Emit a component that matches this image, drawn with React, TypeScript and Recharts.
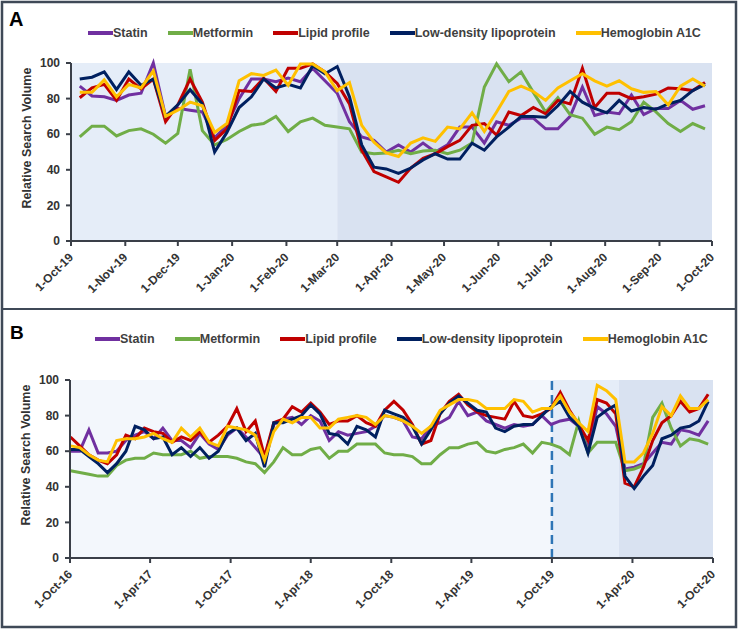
import React from "react";
import { LineChart, Line, XAxis, YAxis, ReferenceArea, ReferenceLine } from "recharts";

// ---- panel A: weekly, Oct 2019 - Sep 2020 ----
const startA = "2019-10-06";
const statinA = [87, 81.5, 81, 79, 82, 83, 100, 70, 74.5, 73.5, 72.5, 58, 65, 80, 91, 91, 89.5, 91.5, 89.5, 97, 90, 83, 67, 58.5, 56.5, 50, 54, 50, 55, 50, 54, 64, 64, 55, 67, 65, 69, 69, 63, 63, 70, 86.5, 70.5, 72.5, 71.5, 82, 71, 74.5, 74.5, 79, 74, 76];
const metforminA = [58.5, 64.5, 64.5, 59, 62, 63, 60, 55, 60.5, 96.5, 62, 54, 57, 61.5, 65, 66, 70, 61.5, 67, 69, 65, 64, 63, 50, 49, 49.5, 51, 49, 50.5, 51, 49, 51, 55, 86.5, 99.5, 89.5, 95, 83.5, 72.5, 80.5, 71, 69, 60, 64, 62.5, 67, 78, 72.5, 66, 61.5, 66, 63];
const lipidA = [80.5, 86, 88, 79, 91, 85.5, 91, 67, 76.5, 91, 78, 56.5, 63, 84.5, 84, 91.5, 84, 97, 97, 99.5, 95, 88.5, 77, 51, 39, 36, 33, 41, 46.5, 49, 53, 56.5, 65, 66, 59.5, 72.5, 70.5, 75, 71.5, 79, 77, 97, 75, 83, 83, 80, 81, 82.5, 86, 85.5, 84.5, 89];
const ldlA = [91, 92, 95, 85, 95, 87.5, 91, 70, 76.5, 85, 77, 50, 61, 75, 81, 91, 86, 88, 86, 98.5, 94, 98, 81, 54, 41.5, 40.5, 38, 41, 45.5, 49, 46, 46, 55, 51, 58.5, 64, 70, 70, 69.5, 76, 84, 78, 74.5, 72, 79, 73, 75, 74, 77, 79, 84.5, 88];
const hba1cA = [83.5, 83.5, 90.5, 81, 88, 86, 95.5, 70, 73.5, 78, 76, 61, 66, 90, 94, 93, 96, 87.5, 99.5, 99.5, 95, 84.5, 89, 65, 55.5, 49.5, 47.5, 55, 58, 56, 64, 63, 72, 61.5, 72.5, 84, 87, 84, 79, 86, 90, 94, 90, 87, 90, 85.5, 83.5, 84, 76.5, 87, 91, 87];
const ticksA = ["2019-10-01", "2019-11-01", "2019-12-01", "2020-01-01", "2020-02-01", "2020-03-01", "2020-04-01", "2020-05-01", "2020-06-01", "2020-07-01", "2020-08-01", "2020-09-01", "2020-10-01"];

// ---- panel B: every 3 weeks, Oct 2016 - Sep 2020 ----
const startB = "2016-10-02";
const statinB = [60, 60, 72, 59, 59, 60, 66, 69, 71, 67, 73, 66, 66, 62, 70, 64, 61, 69, 73, 68, 62, 56, 75, 78, 79, 75, 80, 77, 66, 71, 69, 70, 71, 74, 80, 79, 77, 68, 67, 74, 76, 79, 88, 80, 82, 77, 75, 73, 75, 74, 75, 80, 75, 77, 78, 74, 62, 85, 81, 74, 50, 51, 53, 59, 65, 64, 72, 71, 69, 77];
const metforminB = [49, 48, 47, 46, 46, 52, 55, 56, 56, 59, 58, 58, 58, 60, 56, 57, 57, 57, 56, 54, 53, 48, 54, 62, 58, 58, 61, 62, 56, 60, 60, 64, 64, 64, 59, 58, 58, 57, 53, 53, 58, 62, 62, 64, 65, 60, 59, 61, 62, 64, 59, 65, 64, 62, 58, 77, 59, 65, 65, 65, 49, 50, 52, 79, 87, 73, 63, 67, 66, 64];
const lipidB = [68, 63, 58, 55, 53, 58, 69, 67, 73, 71, 70, 65, 68, 66, 71, 65, 69, 74, 84, 71, 77, 57, 76, 78, 85, 82, 87, 82, 75, 77, 77, 80, 76, 74, 83, 88, 83, 75, 64, 66, 81, 88, 92, 86, 82, 80, 79, 78, 88, 80, 79, 81, 84, 93, 83, 75, 66, 89, 87, 81, 42, 40, 51, 66, 76, 80, 88, 82, 84, 92];
const ldlB = [61, 61, 57, 53, 48, 53, 60, 74, 72, 67, 68, 58, 62, 57, 62, 56, 60, 70, 73, 66, 70, 51, 76, 76, 78, 80, 86, 81, 70, 69, 64, 74, 72, 68, 83, 81, 79, 74, 64, 72, 81, 87, 91, 87, 83, 82, 73, 71, 74, 75, 75, 80, 85, 88, 79, 74, 59, 79, 83, 86, 46, 39, 46, 52, 67, 69, 73, 74, 77, 88];
const hba1cB = [63, 62, 58, 55, 54, 66, 67, 67, 68, 70, 67, 65, 73, 68, 73, 65, 63, 74, 73, 72, 69, 55, 71, 78, 76, 79, 79, 73, 73, 78, 79, 80, 79, 75, 80, 79, 77, 74, 70, 74, 83, 86, 89, 89, 88, 84, 84, 84, 89, 88, 82, 84, 84, 91, 82, 76, 71, 97, 94, 89, 54, 54, 59, 70, 85, 80, 91, 84, 84, 89];
const ticksB = ["2016-10-01", "2017-04-01", "2017-10-01", "2018-04-01", "2018-10-01", "2019-04-01", "2019-10-01", "2020-04-01", "2020-10-01"];

const yTicks = [0, 20, 40, 60, 80, 100];
const SERIES = [
  { key: "statin", name: "Statin", color: "#7030a0" },
  { key: "metformin", name: "Metformin", color: "#70ad47" },
  { key: "lipid", name: "Lipid profile", color: "#c00000" },
  { key: "ldl", name: "Low-density lipoprotein", color: "#002060" },
  { key: "hba1c", name: "Hemoglobin A1C", color: "#ffc000" },
];

const DAY = 86400000;
const MON = ["Jan", "Feb", "Mar", "Apr", "May", "Jun", "Jul", "Aug", "Sep", "Oct", "Nov", "Dec"];
const ts = (s: string) => Date.parse(s + "T00:00:00Z");
const fmt = (t: number) => {
  const d = new Date(t);
  return `${d.getUTCDate()}-${MON[d.getUTCMonth()]}-${String(d.getUTCFullYear()).slice(2)}`;
};

const build = (start: string, stepDays: number, cols: number[][]) =>
  cols[0].map((_, i) => ({
    t: ts(start) + i * stepDays * DAY,
    statin: cols[0][i],
    metformin: cols[1][i],
    lipid: cols[2][i],
    ldl: cols[3][i],
    hba1c: cols[4][i],
  }));

const dataA = build(startA, 7, [statinA, metforminA, lipidA, ldlA, hba1cA]);
const dataB = build(startB, 21, [statinB, metforminB, lipidB, ldlB, hba1cB]);

const FONT = "'Liberation Sans', Arial, sans-serif";
const AXIS = "#3a3f48";

const DateTick = (props: any) => {
  const { x, y, payload } = props;
  return (
    <g transform={`translate(${x + 3},${y + 10})`}>
      <text textAnchor="end" transform="rotate(-45)" fontFamily={FONT} fontWeight="bold" fontSize={12} fill="#333">
        {fmt(payload.value)}
      </text>
    </g>
  );
};

const yLabel = (cx: number, cy: number) => () => (
  <text x={cx} y={cy} transform={`rotate(-90, ${cx}, ${cy})`} textAnchor="middle" dominantBaseline="central"
    fontFamily={FONT} fontWeight="bold" fontSize={12.5} fill="#333">
    Relative Search Volume
  </text>
);

const LegendRow = ({ left, top }: { left: number; top: number }) => (
  <div style={{ position: "absolute", left, top, display: "flex", alignItems: "center", gap: 20,
    fontFamily: FONT, fontWeight: "bold", fontSize: 12.5, lineHeight: "14px", color: "#404040", whiteSpace: "nowrap" }}>
    {SERIES.map((s) => (
      <div key={s.key} style={{ display: "flex", alignItems: "center" }}>
        <span style={{ display: "inline-block", width: 25, height: 4, background: s.color }} />
        {s.name}
      </div>
    ))}
  </div>
);

const lines = () =>
  SERIES.map((s) => (
    <Line key={s.key} type="linear" dataKey={s.key} name={s.name} stroke={s.color} strokeWidth={3}
      dot={false} isAnimationActive={false} />
  ));

const axisProps = {
  axisLine: { stroke: AXIS, strokeWidth: 2 },
  tickLine: { stroke: AXIS, strokeWidth: 2 },
  tickSize: 5,
};

export default function App() {
  const a0 = ts(ticksA[0]);
  const a1 = ts(ticksA[ticksA.length - 1]);
  const b0 = ts(ticksB[0]);
  const b1 = ts(ticksB[ticksB.length - 1]);
  const covid = ts("2020-03-01");
  const oct19 = ts("2019-10-01");

  return (
    <div style={{ position: "fixed", left: 0, top: 0, width: 740, height: 630, background: "#fff" }}>
      <div style={{ position: "absolute", left: 0, top: 0 }}>
        <LineChart width={740} height={310} data={dataA} margin={{ top: 63, right: 28, bottom: 0, left: 0 }}>
          <ReferenceArea x1={a0} x2={covid} y1={0} y2={100} fill="#e5edf8" fillOpacity={1} stroke="none" />
          <ReferenceArea x1={covid} x2={a1} y1={0} y2={100} fill="#d9e2f1" fillOpacity={1} stroke="none" />
          <XAxis dataKey="t" type="number" domain={[a0, a1]} ticks={ticksA.map(ts)} interval={0}
            height={69} tick={<DateTick />} {...axisProps} />
          <YAxis domain={[0, 100]} ticks={yTicks} width={71} interval={0} tickMargin={6}
            tick={{ fill: "#333", fontFamily: FONT, fontWeight: "bold", fontSize: 12 }}
            label={{ content: yLabel(27, 138) }} {...axisProps} />
          {lines()}
        </LineChart>
      </div>
      <div style={{ position: "absolute", left: 0, top: 310 }}>
        <LineChart width={740} height={320} data={dataB} margin={{ top: 70, right: 27, bottom: 0, left: 0 }}>
          <ReferenceArea x1={b0} x2={oct19} y1={0} y2={100} fill="#f3f7fc" fillOpacity={1} stroke="none" />
          <ReferenceArea x1={oct19} x2={covid} y1={0} y2={100} fill="#e5edf8" fillOpacity={1} stroke="none" />
          <ReferenceArea x1={covid} x2={b1} y1={0} y2={100} fill="#d9e2f1" fillOpacity={1} stroke="none" />
          <ReferenceLine x={oct19} stroke="#2e75b6" strokeWidth={2.5} strokeDasharray="9 5" />
          <XAxis dataKey="t" type="number" domain={[b0, b1]} ticks={ticksB.map(ts)} interval={0}
            height={72} tick={<DateTick />} {...axisProps} />
          <YAxis domain={[0, 100]} ticks={yTicks} width={70} interval={0} tickMargin={6}
            tick={{ fill: "#333", fontFamily: FONT, fontWeight: "bold", fontSize: 12 }}
            label={{ content: yLabel(26, 145) }} {...axisProps} />
          {lines()}
        </LineChart>
      </div>

      <LegendRow left={88} top={26} />
      <LegendRow left={95} top={332} />

      <svg width={740} height={630} style={{ position: "absolute", left: 0, top: 0, pointerEvents: "none" }}>
        <rect x={2} y={2} width={734} height={625} fill="none" stroke="#3f4957" strokeWidth={2.5} />
        <line x1={2} x2={736} y1={309} y2={309} stroke="#3f4957" strokeWidth={2} />
        <text x={9} y={26} fontFamily={FONT} fontWeight="bold" fontSize={20} fill="#000">A</text>
        <text x={10} y={339} fontFamily={FONT} fontWeight="bold" fontSize={19} fill="#000">B</text>
      </svg>
    </div>
  );
}
